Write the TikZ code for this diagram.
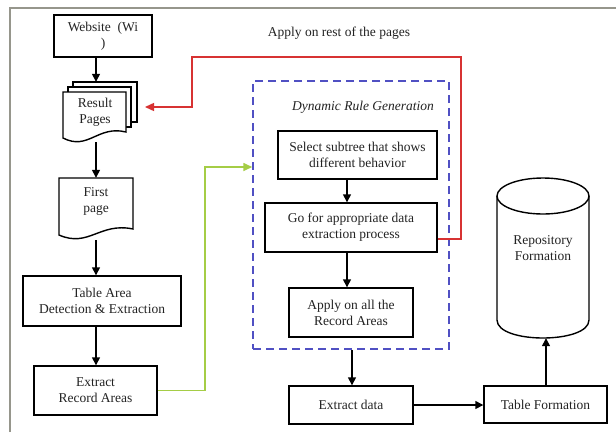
\documentclass[tikz,border=0pt]{standalone}
\usepackage{fontspec}
\setmainfont{Liberation Serif}
\usetikzlibrary{arrows.meta,calc}
\definecolor{redl}{RGB}{215,50,50}
\definecolor{greenl}{RGB}{165,205,70}
\definecolor{bluel}{RGB}{80,80,195}
\definecolor{framec}{RGB}{150,150,140}
\definecolor{txt}{RGB}{35,35,35}
\newcommand{\docshape}[4]{%
  \draw[line width=1.4pt, fill=white] (#1,#2) -- (#3,#2) -- (#3,{#4-6})
    .. controls ({#3-0.45*(#3-#1)},{#4-13}) and ({#1+0.4*(#3-#1)},{#4+13}) .. (#1,#4) -- cycle;}
\begin{document}
\begin{tikzpicture}[x=1pt,y=-1pt,
  font=\fontsize{13.5}{16}\selectfont, text=txt,
  box/.style={draw=black, line width=1.4pt, fill=white, align=center, inner sep=0pt},
  ghost/.style={inner sep=0pt, align=center},
  arr/.style={line width=1.4pt, draw=black, -{Triangle[length=8pt,width=8pt]}},
  ]
\useasboundingbox (0,0) rectangle (616,432);
\fill[white] (0,0) rectangle (616,432);
\draw[framec, line width=1.5pt] (10,432) -- (10,8) -- (616,8);

% column coordinates
\coordinate (colx) at (96,0);
\coordinate (colm) at (347,0);
\coordinate (colb) at (352,0);
\coordinate (colc) at (546,0);

% left column
\node[box, minimum width=98, minimum height=42] (web) at (103,36) {Website~~(Wi\\)};

\draw[line width=1.4pt, fill=white] (73,82) rectangle (137,122);
\draw[line width=1.4pt, fill=white] (68,87) rectangle (131,127);
\docshape{63}{92}{126}{138}
\node[ghost, minimum width=74, minimum height=60] (res) at (100,112) {};
\node[ghost] (restext) at (95,112) {Result\\Pages};

\docshape{59}{178}{133}{235}
\node[ghost, minimum width=74, minimum height=62] (fp) at (96,209) {};
\node[ghost] (fptext) at (96,201) {First\\page};

\node[box, minimum width=158, minimum height=50] (tab) at (102,301) {Table Area\\Detection \& Extraction};
\node[box, minimum width=123, minimum height=49] (era) at (95.5,390.5) {Extract\\Record Areas};

\draw[arr] (web.south -| colx) -- (res.north -| colx);
\draw[arr] (res.south -| colx) -- (fp.north -| colx);
\draw[arr] (fp.south -| colx) -- (tab.north -| colx);
\draw[arr] (tab.south -| colx) -- (era.north -| colx);

% top label
\node[ghost] (apply) at (339,33) {Apply on rest of the pages};

% dynamic rule generation
\node[draw=bluel, line width=1.5pt, dash pattern=on 8pt off 5pt, minimum width=196, minimum height=268, inner sep=0pt] (dyn) at (351,215) {};
\node[ghost, font=\fontsize{13.5}{16}\selectfont\itshape] (dyntitle) at (363,107) {Dynamic Rule Generation};
\node[box, minimum width=159, minimum height=48] (sel) at (357.5,155) {Select subtree that shows\\different behavior};
\node[box, minimum width=172, minimum height=49] (go) at (351,227.5) {Go for appropriate data\\extraction process};
\node[box, minimum width=124, minimum height=49] (app) at (351,312.5) {Apply on all the\\Record Areas};

\draw[arr] (sel.south -| colm) -- (go.north -| colm);
\draw[arr] (go.south -| colm) -- (app.north -| colm);

% bottom row
\node[box, minimum width=124, minimum height=38] (exd) at (351,405) {Extract data};
\node[box, minimum width=123, minimum height=37] (tf) at (545.5,404.5) {Table Formation};
\draw[arr] (dyn.south -| colb) -- (exd.north -| colb);
\draw[arr] (exd.east) -- (exd.east -| tf.west);

% cylinder
\node[ghost, minimum width=92, minimum height=160] (cyl) at (543,258) {};
\draw[line width=1.4pt, fill=white] (497,196) -- (497,320) .. controls (497,344) and (589,344) .. (589,320) -- (589,196);
\draw[line width=1.4pt, fill=white] (543,196) ellipse [x radius=46, y radius=18];
\node[ghost] (cyltext) at (543,248) {Repository\\Formation};
\draw[arr] (tf.north -| colc) -- (cyl.south -| colc);

% red feedback
\coordinate (r0) at (0,239);
\coordinate (redend) at (145,107);
\draw[redl, line width=1.4pt, -{Triangle[length=9pt,width=8pt]}] (go.east |- r0) -- (461,239) -- (461,57) -- (192,57) -- (192,107) -- (redend);

% green
\coordinate (g1) at (205,167);
\draw[greenl, line width=1.6pt, -{Triangle[length=9pt,width=8pt]}] (era.east) -| (g1) -- (dyn.west |- g1);
\end{tikzpicture}
\end{document}
